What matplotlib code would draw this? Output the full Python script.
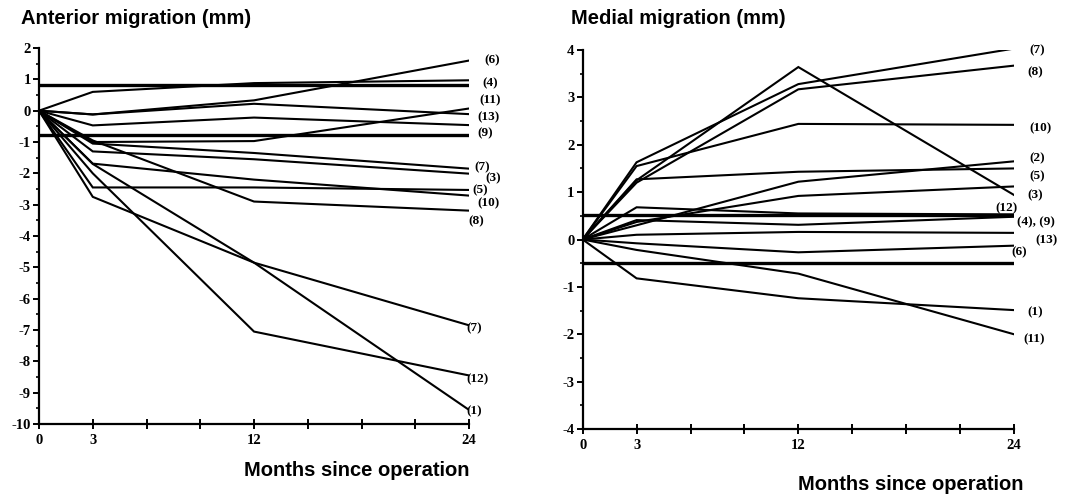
import matplotlib
matplotlib.use("Agg")
import matplotlib.pyplot as plt
from matplotlib.ticker import MultipleLocator, FixedLocator, FixedFormatter

plt.rcParams["axes.unicode_minus"] = False

months = [0, 3, 12, 24]

# Anterior migration (mm) - one list per patient line
ant_series = [
    [0, -0.12, 0.33, 1.60],
    [0, 0.60, 0.88, 0.97],
    [0, -1.00, -0.97, 0.07],
    [0, -0.12, 0.22, -0.11],
    [0, -0.47, -0.22, -0.46],
    [0, -1.05, -1.35, -1.85],
    [0, -1.30, -1.55, -2.01],
    [0, -2.45, -2.45, -2.53],
    [0, -1.69, -2.20, -2.71],
    [0, -0.95, -2.90, -3.19],
    [0, -2.75, -4.85, -6.85],
    [0, -2.00, -7.05, -8.45],
    [0, -1.70, -4.85, -9.55],
]
ant_ref = [0.83, -0.77]
ant_labels = ["(6)", "(4)", "(11)", "(13)", "(9)", "(7)", "(3)", "(5)", "(10)",
              "(8)", "(7)", "(12)", "(1)"]
ant_label_x = [25.3, 25.2, 25.2, 25.1, 24.9, 24.76, 25.35, 24.6, 25.1, 24.4, 24.3, 24.5, 24.3]
ant_label_y = [1.6, 0.89, 0.32, -0.21, -0.72, -1.8, -2.16, -2.53, -2.96, -3.54, -6.93, -8.58, -9.6]

# Medial migration (mm)
med_series = [
    [0, 1.63, 3.28, 4.03],
    [0, 1.20, 3.17, 3.67],
    [0, 1.55, 2.44, 2.42],
    [0, 1.25, 3.64, 0.94],
    [0, 0.30, 1.22, 1.65],
    [0, 1.27, 1.43, 1.50],
    [0, 0.37, 0.92, 1.12],
    [0, 0.68, 0.55, 0.53],
    [0, 0.41, 0.31, 0.48],
    [0, 0.10, 0.16, 0.14],
    [0, -0.08, -0.27, -0.13],
    [0, -0.82, -1.24, -1.49],
    [0, -0.22, -0.72, -2.00],
]
med_ref = [0.52, -0.49]
med_labels = ["(7)", "(8)", "(10)", "(2)", "(5)", "(3)", "(12)", "(4), (9)", "(13)",
              "(6)", "(1)", "(11)"]
med_label_x = [25.3, 25.2, 25.5, 25.3, 25.3, 25.2, 23.6, 25.2, 25.8, 24.3, 25.2, 25.1]
med_label_y = [4.0, 3.53, 2.35, 1.72, 1.33, 0.94, 0.66, 0.36, -0.01, -0.28, -1.53, -2.1]

xtick_major = [0, 3, 6, 9, 12, 15, 18, 21, 24]
xtick_labels = ["0", "3", "", "", "12", "", "", "", "24"]

serif = "Liberation Serif"
sans = "Liberation Sans"

fig = plt.figure(figsize=(10.66, 4.95), dpi=100)
ax1 = fig.add_axes([0.0366, 0.1434, 0.4034, 0.7596])
ax2 = fig.add_axes([0.5466, 0.1333, 0.4046, 0.7657])


def style(ax, ylo, yhi):
    ax.set_xlim(0, 24)
    ax.set_ylim(ylo, yhi)
    for s in ("top", "right"):
        ax.spines[s].set_visible(False)
    for s in ("left", "bottom"):
        ax.spines[s].set_linewidth(1.6)
    ax.xaxis.set_major_locator(FixedLocator(xtick_major))
    ax.xaxis.set_major_formatter(FixedFormatter(xtick_labels))
    ax.yaxis.set_major_locator(MultipleLocator(1))
    ax.yaxis.set_minor_locator(MultipleLocator(0.5))
    ax.tick_params(axis="x", which="major", direction="inout", length=7, width=1.4, pad=4)
    ax.tick_params(axis="y", which="major", direction="out", length=4, width=1.4, pad=2)
    ax.tick_params(axis="y", which="minor", direction="out", length=2.5, width=1.2)
    for lab in ax.get_xticklabels() + ax.get_yticklabels():
        lab.set_fontfamily(serif)
        lab.set_fontweight("bold")
        lab.set_fontsize(10.5)


style(ax1, -10, 2)
style(ax2, -4, 4)

for s in ant_series:
    ax1.plot(months, s, color="black", lw=1.5, solid_joinstyle="miter")
for r in ant_ref:
    ax1.plot([0, 24], [r, r], color="black", lw=2.4)
for t, x, y in zip(ant_labels, ant_label_x, ant_label_y):
    ax1.text(x, y, t, ha="center", va="center", fontsize=9.5, family=serif,
             fontweight="bold", clip_on=False)

for s in med_series:
    ax2.plot(months, s, color="black", lw=1.5, solid_joinstyle="miter")
for r in med_ref:
    ax2.plot([0, 24], [r, r], color="black", lw=2.4)
for t, x, y in zip(med_labels, med_label_x, med_label_y):
    ax2.text(x, y, t, ha="center", va="center", fontsize=9.5, family=serif,
             fontweight="bold", clip_on=False)

fig.text(21 / 1066, 1 - 19 / 495, "Anterior migration (mm)", ha="left", va="center",
         fontsize=14.5, family=sans, fontweight="bold")
fig.text(571 / 1066, 1 - 19 / 495, "Medial migration (mm)", ha="left", va="center",
         fontsize=14.5, family=sans, fontweight="bold")
fig.text(470 / 1066, 1 - 470 / 495, "Months since operation", ha="right", va="center",
         fontsize=14.5, family=sans, fontweight="bold")
fig.text(1023 / 1066, 1 - 484 / 495, "Months since operation", ha="right", va="center",
         fontsize=14.5, family=sans, fontweight="bold")

fig.savefig("out.png", dpi=100)
